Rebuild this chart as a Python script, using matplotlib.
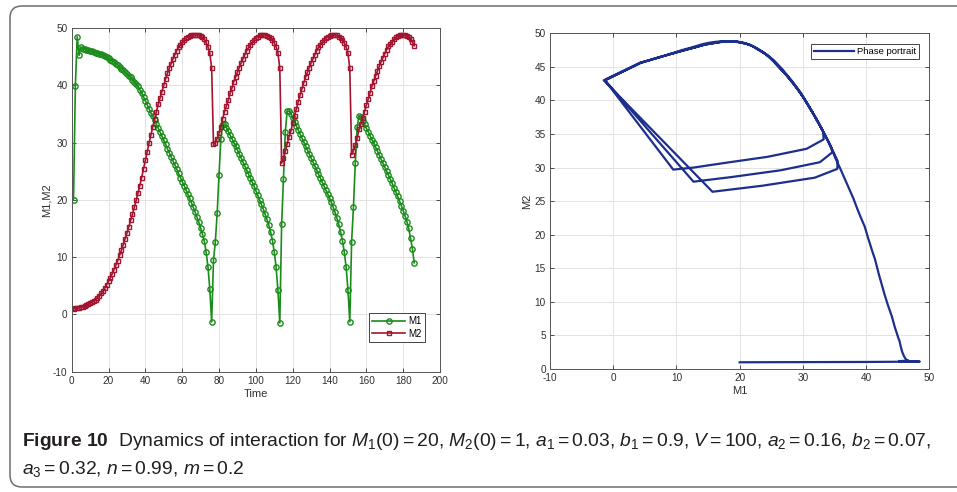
import numpy as np
import matplotlib
matplotlib.use("Agg")
import matplotlib.pyplot as plt
import matplotlib.patches as mpatches
from matplotlib.transforms import IdentityTransform
from matplotlib import font_manager

# M1 and M2 at every time step
m1 = [20.0, 39.9, 48.5, 45.2, 46.7,
      46.4, 46.3, 46.2, 46.1, 46.0, 45.9, 45.8, 45.7, 45.6, 45.5,
      45.4, 45.3, 45.1, 44.9, 44.7, 44.5, 44.3, 44.1, 43.8, 43.5,
      43.2, 42.9, 42.6, 42.3, 42.0, 41.7, 41.4, 41.0, 40.6, 40.2,
      39.8, 39.2, 38.6, 38.0, 37.3, 36.6, 35.9, 35.2, 34.6, 33.9,
      33.2, 32.5, 31.8, 31.1, 30.4, 29.7, 28.9, 28.2, 27.5, 26.8,
      26.1, 25.4, 24.6, 23.9, 23.2, 22.5, 21.8, 21.0, 20.3, 19.5,
      18.7, 17.9, 17.0, 16.1, 15.1, 14.0, 12.8, 10.9, 8.3, 4.4,
      -1.3,
      9.5, 12.7, 17.7, 24.4, 30.6, 33.3,
      33.2, 32.6, 32.0, 31.3, 30.7, 30.0, 29.4, 28.7, 28.0, 27.3,
      26.6, 25.9, 25.2, 24.5, 23.8, 23.1, 22.4, 21.6, 20.8, 20.0,
      19.2, 18.4, 17.5, 16.6, 15.6, 14.4, 12.9, 10.9, 8.2, 4.2,
      -1.5,
      15.7, 23.6, 31.9, 35.45,
      35.5, 35.0, 34.3, 33.6, 32.9, 32.2, 31.5, 30.8, 30.1, 29.4,
      28.7, 28.0, 27.3, 26.6, 25.9, 25.2, 24.5, 23.8, 23.1, 22.4,
      21.7, 21.0, 20.3, 19.6, 18.7, 17.8, 16.8, 15.7, 14.4, 12.9,
      10.9, 8.3, 4.3, -1.3,
      12.7, 18.8, 26.5, 32.7,
      34.7, 34.4, 33.8, 33.2, 32.5, 31.9, 31.2, 30.5, 29.9, 29.2,
      28.5, 27.8, 27.1, 26.4, 25.7, 25.0, 24.3, 23.6, 22.9, 22.1,
      21.4, 20.6, 19.8, 19.0, 18.1, 17.2, 16.2, 15.0, 13.3, 11.5,
      9.0]

m2 = [1.0, 1.05, 1.1, 1.17, 1.25, 1.35, 1.46, 1.6, 1.75, 1.92,
      2.12, 2.35, 2.6, 2.95, 3.3, 3.7, 4.15, 4.65, 5.2, 5.8,
      6.4, 7.1, 7.8, 8.6, 9.4, 10.3, 11.2, 12.2, 13.2, 14.2,
      15.3, 16.4, 17.5, 18.7, 19.9,
      21.2, 22.5, 23.9, 25.4, 26.9, 28.4, 29.9, 31.3, 32.7, 34.1,
      35.4, 36.7, 37.8, 38.9, 40.0,
      41.1, 42.1, 43.0, 43.8, 44.6, 45.3, 46.0, 46.6, 47.1, 47.5,
      47.9, 48.2, 48.45, 48.6, 48.72, 48.8, 48.82, 48.8, 48.72, 48.58,
      48.35, 48.0, 47.5, 46.7, 45.6, 43.0,
      29.7, 30.0, 30.7, 31.6, 32.8, 34.2,
      35.4, 36.4, 37.4, 38.6, 39.5, 40.6, 41.4, 42.3, 43.1, 43.9,
      44.6, 45.3, 46.0, 46.6, 47.1, 47.5, 47.9, 48.3, 48.5, 48.7,
      48.8, 48.8, 48.75, 48.65, 48.5, 48.3, 47.9, 47.4, 46.7, 45.6,
      43.0,
      26.4, 27.3, 28.5, 29.8,
      31.0, 32.0, 33.4, 34.7, 35.9, 37.1, 38.3, 39.4, 40.4, 41.4,
      42.3, 43.1, 43.9, 44.6, 45.3, 46.0, 46.6, 47.1, 47.5, 47.9,
      48.25, 48.5, 48.65, 48.75, 48.8, 48.78, 48.7, 48.5, 48.3, 47.9,
      47.4, 46.7, 45.6, 43.0,
      27.9, 28.6, 29.6, 30.8,
      32.3, 33.2, 34.3, 35.4, 36.6, 37.6, 38.7, 39.8, 40.7, 41.6,
      42.5, 43.3, 44.1, 44.8, 45.5, 46.2, 46.8, 47.2, 47.6, 48.05,
      48.35, 48.55, 48.7, 48.8, 48.8, 48.75, 48.6, 48.45, 48.0, 47.55,
      46.9]

time = np.arange(1, len(m1) + 1)

names = {f.name for f in font_manager.fontManager.ttflist}
cap_font = "Liberation Sans Narrow" if "Liberation Sans Narrow" in names else "Liberation Sans"
cap_size = 12.6 if cap_font == "Liberation Sans Narrow" else 13.9

plt.rcParams["font.family"] = ["Liberation Sans", "DejaVu Sans"]
plt.rcParams["axes.unicode_minus"] = False
plt.rcParams["mathtext.fontset"] = "custom"
plt.rcParams["mathtext.rm"] = cap_font
plt.rcParams["mathtext.it"] = cap_font + ":italic"
plt.rcParams["mathtext.bf"] = cap_font + ":bold"

GREEN = "#198c19"
RED = "#a2142f"
NAVY = "#1c2f8c"
TXT = "#303030"


def matlab_style(ax):
    ax.grid(True, color="#e3e3e3", lw=0.7)
    ax.set_axisbelow(True)
    for s in ax.spines.values():
        s.set_color("#555555")
        s.set_linewidth(0.7)
    ax.tick_params(direction="in", length=3, width=0.6, top=True, right=True,
                   labelsize=7.2, colors=TXT, pad=3)


fig = plt.figure(figsize=(9.57, 4.92), dpi=100)

# left: time series
ax1 = fig.add_axes([0.0749, 0.2445, 0.3849, 0.6986])
ax1.plot(time, m1, color=GREEN, lw=1.2, marker="o", ms=3.8, mfc="none", mew=1.0, label="M1")
ax1.plot(time, m2, color=RED, lw=1.2, marker="s", ms=3.4, mfc="none", mew=1.0, label="M2")
ax1.set_xlim(0, 200)
ax1.set_ylim(-10, 50)
ax1.set_xticks(range(0, 201, 20))
ax1.set_yticks(range(-10, 51, 10))
matlab_style(ax1)
ax1.set_xlabel("Time", fontsize=8, color=TXT, labelpad=2)
ax1.set_ylabel("M1,M2", fontsize=8, color=TXT, labelpad=1)
leg1 = ax1.legend(loc="lower right", bbox_to_anchor=(0.959, 0.086), borderaxespad=0,
                  fontsize=7, fancybox=False, edgecolor="#262626", framealpha=1,
                  handlelength=3.4, borderpad=0.35, labelspacing=0.25, handletextpad=0.3)
leg1.get_frame().set_linewidth(0.6)

# right: phase portrait
ax2 = fig.add_axes([0.5747, 0.25, 0.3963, 0.6823])
ax2.plot(m1, m2, color=NAVY, lw=1.6, label="Phase portrait")
ax2.set_xlim(-10, 50)
ax2.set_ylim(0, 50)
ax2.set_xticks(range(-10, 51, 10))
ax2.set_yticks(range(0, 51, 5))
matlab_style(ax2)
ax2.set_xlabel("M1", fontsize=8, color=TXT, labelpad=2)
ax2.set_ylabel("M2", fontsize=8, color=TXT, labelpad=2)
leg2 = ax2.legend(loc="upper right", bbox_to_anchor=(0.973, 0.968), borderaxespad=0,
                  fontsize=6.8, fancybox=False, edgecolor="#262626", framealpha=1,
                  handlelength=4.3, borderpad=0.3, handletextpad=0.3)
leg2.get_frame().set_linewidth(0.6)

# frame around figure and caption
box = mpatches.FancyBboxPatch((10, 5), 960, 481, boxstyle="round,pad=0,rounding_size=12",
                              transform=IdentityTransform(), fill=False,
                              ec="#6e6e6e", lw=1.1)
fig.add_artist(box)

line1 = (r"$\mathbf{Figure\ 10}$  Dynamics of interaction for $M_1(0) = 20$, $M_2(0) = 1$, "
         r"$a_1 = 0.03$, $b_1 = 0.9$, $V = 100$, $a_2 = 0.16$, $b_2 = 0.07$,")
line2 = r"$a_3 = 0.32$, $n = 0.99$, $m = 0.2$"
fig.text(22 / 957, 1 - 441 / 492, line1, fontsize=cap_size, family=cap_font, color="#231f20", va="center")
fig.text(22 / 957, 1 - 469 / 492, line2, fontsize=cap_size, family=cap_font, color="#231f20", va="center")

fig.savefig("out.png", dpi=100)
